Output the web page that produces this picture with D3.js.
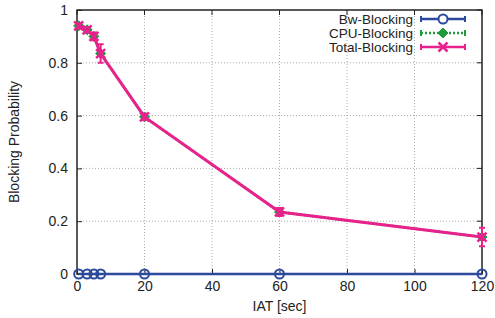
<!DOCTYPE html>
<html>
<head>
<meta charset="utf-8">
<script src="https://cdn.jsdelivr.net/npm/d3@7"></script>
<style>
body { margin: 0; background: #fff; }
text { font-family: "Liberation Sans", Arial, sans-serif; fill: #222; }
</style>
</head>
<body>
<svg id="chart" width="495" height="318"></svg>
<script>
// data
const iat = [0.5, 3, 5, 7, 20, 60, 120];
const bwBlocking = [0, 0, 0, 0, 0, 0, 0];
const cpuBlocking = [0.94, 0.925, 0.9, 0.835, 0.595, 0.235, 0.14];
const totalBlocking = [0.94, 0.925, 0.9, 0.835, 0.595, 0.235, 0.14];
const totalErr = [0.01, 0.01, 0.015, 0.035, 0.012, 0.015, 0.035];
const xTicks = [0, 20, 40, 60, 80, 100, 120];
const yTicks = [0, 0.2, 0.4, 0.6, 0.8, 1];
const seriesNames = ["Bw-Blocking", "CPU-Blocking", "Total-Blocking"];

const blue = "#2b4a9e", green = "#1f9a3c", pink = "#e8228c";

const svg = d3.select("#chart");
const pLeft = 77, pRight = 482, pTop = 10, pBottom = 274;

const x = d3.scaleLinear().domain([0, 120]).range([pLeft, pRight]);
const y = d3.scaleLinear().domain([0, 1]).range([pBottom, pTop]);

// grid
const grid = svg.append("g");
grid.selectAll(".gx").data(xTicks.slice(1, -1)).enter().append("line")
  .attr("x1", d => x(d)).attr("x2", d => x(d))
  .attr("y1", pTop).attr("y2", pBottom)
  .attr("stroke", "#aaa").attr("stroke-dasharray", "1,2");
grid.selectAll(".gy").data(yTicks.slice(1, -1)).enter().append("line")
  .attr("x1", pLeft).attr("x2", pRight)
  .attr("y1", d => y(d)).attr("y2", d => y(d))
  .attr("stroke", "#aaa").attr("stroke-dasharray", "1,2");

// axes
const xAxis = d3.axisBottom(x).tickValues(xTicks).tickSize(-5).tickPadding(7);
const yAxis = d3.axisLeft(y).tickValues(yTicks).tickSize(-5).tickPadding(9)
  .tickFormat(d => d === 0 || d === 1 ? d : d3.format(".1f")(d));

const gx = svg.append("g").attr("transform", `translate(0,${pBottom})`).call(xAxis);
const gy = svg.append("g").attr("transform", `translate(${pLeft},0)`).call(yAxis);
[gx, gy].forEach(g => {
  g.select(".domain").remove();
  g.selectAll("text").style("font-size", "14px").style("fill", "#222");
  g.selectAll("line").attr("stroke", "#222");
});

// top/right ticks
svg.append("g").selectAll("line").data(xTicks).enter().append("line")
  .attr("x1", d => x(d)).attr("x2", d => x(d)).attr("y1", pTop).attr("y2", pTop + 5)
  .attr("stroke", "#222");
svg.append("g").selectAll("line").data(yTicks).enter().append("line")
  .attr("x1", pRight).attr("x2", pRight - 5).attr("y1", d => y(d)).attr("y2", d => y(d))
  .attr("stroke", "#222");

// frame
svg.append("rect").attr("x", pLeft).attr("y", pTop)
  .attr("width", pRight - pLeft).attr("height", pBottom - pTop)
  .attr("fill", "none").attr("stroke", "#222").attr("stroke-width", 1.5);

// axis titles
svg.append("text").attr("x", (pLeft + pRight) / 2).attr("y", 311)
  .attr("text-anchor", "middle").style("font-size", "14px").text("IAT [sec]");
svg.append("text").attr("transform", `translate(19,${(pTop + pBottom) / 2}) rotate(-90)`)
  .attr("text-anchor", "middle").style("font-size", "14px").text("Blocking Probability");

const line = d3.line().x(d => x(d[0])).y(d => y(d[1]));
const pts = vals => iat.map((v, i) => [v, vals[i]]);

// draw a cross marker
function cross(g, cx, cy, s, color) {
  g.append("path")
    .attr("d", `M${cx - s},${cy - s}L${cx + s},${cy + s}M${cx - s},${cy + s}L${cx + s},${cy - s}`)
    .attr("stroke", color).attr("stroke-width", 2.5).attr("fill", "none");
}
function diamond(g, cx, cy, s, color) {
  g.append("path")
    .attr("d", `M${cx},${cy - s}L${cx + s},${cy}L${cx},${cy + s}L${cx - s},${cy}Z`)
    .attr("fill", color).attr("stroke", color).attr("stroke-width", 1);
}

const plot = svg.append("g");

// CPU blocking (green, dotted, diamonds)
plot.append("path").datum(pts(cpuBlocking)).attr("d", line)
  .attr("fill", "none").attr("stroke", green).attr("stroke-width", 2.5)
  .attr("stroke-dasharray", "2,2");
pts(cpuBlocking).forEach(p => diamond(plot, x(p[0]) , y(p[1]), 5, green));

// Total blocking (pink, crosses with error bars)
plot.append("path").datum(pts(totalBlocking)).attr("d", line)
  .attr("fill", "none").attr("stroke", pink).attr("stroke-width", 3);
pts(totalBlocking).forEach((p, i) => {
  const cx = x(p[0]), y0 = y(p[1] - totalErr[i]), y1 = y(p[1] + totalErr[i]);
  plot.append("path")
    .attr("d", `M${cx},${y0}L${cx},${y1}M${cx - 3},${y0}L${cx + 3},${y0}M${cx - 3},${y1}L${cx + 3},${y1}`)
    .attr("stroke", pink).attr("stroke-width", 2).attr("fill", "none");
  cross(plot, cx, y(p[1]), 4.5, pink);
});

// Bw blocking (blue, circles)
plot.append("path").datum(pts(bwBlocking)).attr("d", line)
  .attr("fill", "none").attr("stroke", blue).attr("stroke-width", 2.5);
plot.selectAll(".bw").data(pts(bwBlocking)).enter().append("circle")
  .attr("cx", d => x(d[0])).attr("cy", d => y(d[1])).attr("r", 4.5)
  .attr("fill", "none").attr("stroke", blue).attr("stroke-width", 2);

// legend
const leg = svg.append("g");
const colors = [blue, green, pink];
seriesNames.forEach((name, i) => {
  const ly = 19 + i * 14;
  leg.append("text").attr("x", 413).attr("y", ly + 5).attr("text-anchor", "end")
    .style("font-size", "13.5px").text(name);
  const l = leg.append("line").attr("x1", 421).attr("x2", 465).attr("y1", ly).attr("y2", ly)
    .attr("stroke", colors[i]).attr("stroke-width", 2.5);
  if (i === 1) l.attr("stroke-dasharray", "2,2");
  const cx = 443;
  if (i === 0) {
    leg.append("circle").attr("cx", cx).attr("cy", ly).attr("r", 4.5)
      .attr("fill", "#fff").attr("stroke", blue).attr("stroke-width", 2);
  } else if (i === 1) {
    diamond(leg, cx, ly, 5, green);
  } else {
    cross(leg, cx, ly, 4.5, pink);
  }
  leg.append("path").attr("d", `M421,${ly - 3}L421,${ly + 3}M465,${ly - 3}L465,${ly + 3}`)
    .attr("stroke", colors[i]).attr("stroke-width", 2);
});
</script>
</body>
</html>
